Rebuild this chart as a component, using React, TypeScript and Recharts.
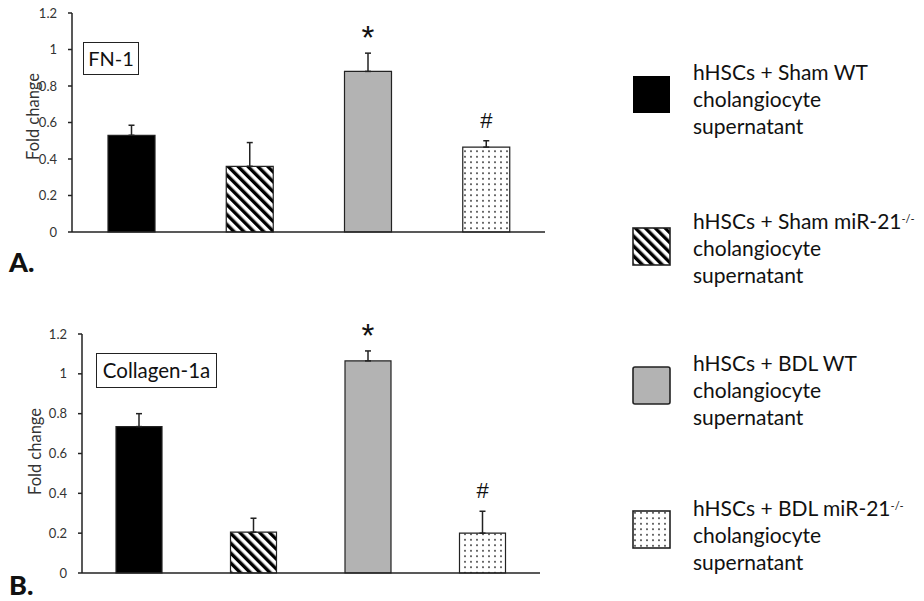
import React from 'react';
import { BarChart, Bar, XAxis, YAxis, Cell, ErrorBar, LabelList } from 'recharts';

const groups = ['Sham WT', 'Sham miR-21-/-', 'BDL WT', 'BDL miR-21-/-'];
const fn1Values = [0.53, 0.36, 0.88, 0.465];
const fn1Errors = [0.055, 0.13, 0.1, 0.035];
const col1aValues = [0.735, 0.205, 1.065, 0.2];
const col1aErrors = [0.065, 0.07, 0.05, 0.11];
const marks = ['', '', '*', '#'];
const yTicks = [0, 0.2, 0.4, 0.6, 0.8, 1, 1.2];

const legendLine1 = ['hHSCs + Sham WT', 'hHSCs + Sham miR-21', 'hHSCs + BDL WT', 'hHSCs + BDL miR-21'];
const legendSup = ['', '-/-', '', '-/-'];

const FILLS = ['#000000', 'url(#hatch)', '#b3b3b3', 'url(#dots)'];
const FONT = 'Lato, "Open Sans", sans-serif';

function Patterns() {
  return (
    <svg width={0} height={0} style={{ position: 'absolute' }}>
      <defs>
        <pattern id="hatch" patternUnits="userSpaceOnUse" width={7} height={7} patternTransform="rotate(-45)">
          <rect width={7} height={7} fill="#fff" />
          <rect width={3.4} height={7} fill="#000" />
        </pattern>
        <pattern id="dots" patternUnits="userSpaceOnUse" width={6} height={5.5}>
          <rect width={6} height={5.5} fill="#fff" />
          <circle cx={3} cy={2.75} r={0.85} fill="#111" />
        </pattern>
      </defs>
    </svg>
  );
}

function makeMark(errors: number[]) {
  return (props: any) => {
    const { x, y, width, height, value, index } = props;
    const m = marks[index];
    if (!m || !value) return null;
    const errTop = y - (errors[index] * height) / value;
    const isStar = m === '*';
    return (
      <text
        x={x + width / 2}
        y={isStar ? errTop - 4 : errTop - 13}
        textAnchor="middle"
        fontFamily='"Liberation Sans", Arial, sans-serif'
        fontSize={isStar ? 33 : 22}
        fill="#111"
      >
        {m}
      </text>
    );
  };
}

interface PanelProps {
  values: number[];
  errors: number[];
  width: number;
  height: number;
  top: number;
  axisWidth: number;
  barSize: number;
  labelX: number;
  labelDy: number;
}

function Panel({ values, errors, width, height, top, axisWidth, barSize, labelX, labelDy }: PanelProps) {
  const data = groups.map((g, i) => ({ group: g, value: values[i], err: [0, errors[i]] }));
  return (
    <BarChart width={width} height={height} data={data} margin={{ top, right: 15, left: 0, bottom: 0 }}>
      <XAxis
        dataKey="group"
        tick={false}
        tickLine={false}
        height={28}
        axisLine={{ stroke: '#222', strokeWidth: 1.5 }}
      />
      <YAxis
        width={axisWidth}
        domain={[0, 1.2]}
        ticks={yTicks}
        interval={0}
        tickSize={4}
        tickMargin={11}
        axisLine={{ stroke: '#222', strokeWidth: 1.5 }}
        tickLine={{ stroke: '#222', strokeWidth: 1.5 }}
        tick={{ fontSize: 13, fill: '#333', fontFamily: FONT }}
        label={{
          position: 'insideLeft',
          content: (p: any) => {
            const vb = p.viewBox;
            const cx = vb.x + labelX;
            const cy = vb.y + vb.height / 2 + labelDy;
            return (
              <text
                x={cx}
                y={cy}
                transform={`rotate(-90, ${cx}, ${cy})`}
                textAnchor="middle"
                dominantBaseline="central"
                fontSize={16.5}
                fontFamily={FONT}
                fill="#333"
              >
                Fold change
              </text>
            );
          },
        }}
      />
      <Bar dataKey="value" barSize={barSize} stroke="#222" strokeWidth={1.2} isAnimationActive={false}>
        {data.map((d, i) => (
          <Cell key={d.group} fill={FILLS[i]} />
        ))}
        <ErrorBar dataKey="err" width={3} stroke="#222" strokeWidth={1.5} direction="y" isAnimationActive={false} />
        <LabelList dataKey="value" content={makeMark(errors)} />
      </Bar>
    </BarChart>
  );
}

const legendTops = [58, 207, 349, 494];
const swatchTops = [75, 227, 366, 510];

export default function App() {
  return (
    <div
      style={{
        position: 'absolute',
        left: 0,
        top: 0,
        width: 924,
        height: 601,
        background: '#fff',
        fontFamily: FONT,
        color: '#111',
        overflow: 'hidden',
      }}
    >
      <Patterns />
      <div style={{ position: 'absolute', left: 0, top: 0 }}>
        <Panel values={fn1Values} errors={fn1Errors} width={560} height={260} top={13} axisWidth={72} barSize={47} labelX={33} labelDy={-6} />
      </div>
      <div style={{ position: 'absolute', left: 0, top: 295 }}>
        <Panel values={col1aValues} errors={col1aErrors} width={555} height={306} top={39} axisWidth={82} barSize={46} labelX={35} labelDy={-2} />
      </div>

      {/* panel titles */}
      <div style={{ position: 'absolute', left: 83, top: 42, width: 54, height: 31, border: '1.5px solid #222', fontSize: 20, lineHeight: '31px', textAlign: 'center' }}>
        FN-1
      </div>
      <div style={{ position: 'absolute', left: 96, top: 353, width: 119, height: 33, border: '1.5px solid #222', fontSize: 20.5, lineHeight: '33px', textAlign: 'center' }}>
        Collagen-1a
      </div>
      <div style={{ position: 'absolute', left: 9, top: 245, fontSize: 27, fontWeight: 900 }}>A.</div>
      <div style={{ position: 'absolute', left: 9, top: 568, fontSize: 27, fontWeight: 900 }}>B.</div>

      {/* legend */}
      {legendLine1.map((t, i) => (
        <React.Fragment key={t}>
          <svg style={{ position: 'absolute', left: 632, top: swatchTops[i] }} width={40} height={40}>
            <rect x={1} y={1} width={37} height={37} rx={i === 2 ? 2 : 0} fill={FILLS[i]} stroke="#222" strokeWidth={i === 0 ? 0 : 1.6} />
          </svg>
          <div style={{ position: 'absolute', left: 693, top: legendTops[i], fontSize: 21, lineHeight: '27px', whiteSpace: 'nowrap' }}>
            {t}
            {legendSup[i] && <sup style={{ fontSize: 11, verticalAlign: 'top', position: 'relative', top: -2 }}>{legendSup[i]}</sup>}
            <br />
            cholangiocyte
            <br />
            supernatant
          </div>
        </React.Fragment>
      ))}
    </div>
  );
}
